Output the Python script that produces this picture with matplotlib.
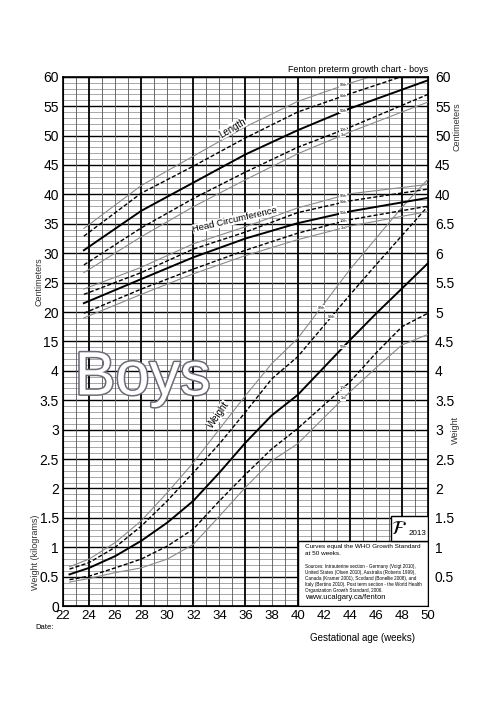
import matplotlib
matplotlib.use("Agg")
import matplotlib.pyplot as plt
import matplotlib.patheffects as pe
import numpy as np

plt.rcParams['font.family'] = ['Liberation Sans', 'DejaVu Sans']

# ---------------- data ----------------
pct_names = ["97th", "90th", "50th", "10th", "3rd"]

len_weeks = [23.6, 28, 32, 36, 40, 44, 50]
length_cm = {
    "97th": [34.2, 41.5, 46.5, 51.5, 55.8, 58.9, 63.0],
    "90th": [32.9, 40.2, 44.8, 49.6, 54.0, 57.1, 61.5],
    "50th": [30.5, 37.2, 42.0, 46.8, 50.9, 54.6, 59.4],
    "10th": [28.0, 34.3, 39.3, 43.8, 48.0, 51.4, 57.0],
    "3rd":  [26.7, 32.8, 37.9, 42.5, 46.9, 50.6, 55.7],
}

hc_weeks = [23.6, 28, 32, 36, 40, 44, 50]
head_cm = {
    "97th": [23.9, 27.6, 31.6, 34.5, 37.7, 40.1, 41.7],
    "90th": [23.0, 26.7, 30.7, 33.6, 36.9, 38.9, 40.9],
    "50th": [21.5, 25.6, 29.3, 32.5, 35.1, 37.1, 39.4],
    "10th": [19.8, 23.9, 27.3, 30.5, 33.4, 35.7, 38.0],
    "3rd":  [19.0, 23.0, 26.5, 29.6, 32.3, 34.6, 37.1],
}

wt_weeks = [22.5, 24, 26, 28, 30, 32, 34, 36, 38, 40, 44, 46, 48, 50]
weight_kg = {
    "97th": [0.67, 0.80, 1.08, 1.45, 1.93, 2.44, 3.01, 3.58, 4.12, 4.55, 5.72, 6.25, 6.78, 7.26],
    "90th": [0.63, 0.74, 1.00, 1.36, 1.79, 2.27, 2.76, 3.30, 3.86, 4.24, 5.29, 5.80, 6.30, 6.80],
    "50th": [0.54, 0.65, 0.85, 1.11, 1.42, 1.79, 2.27, 2.78, 3.24, 3.59, 4.52, 4.97, 5.40, 5.83],
    "10th": [0.45, 0.51, 0.65, 0.80, 1.02, 1.31, 1.79, 2.24, 2.67, 3.02, 3.81, 4.30, 4.75, 4.98],
    "3rd":  [0.41, 0.47, 0.57, 0.65, 0.80, 1.05, 1.53, 2.02, 2.47, 2.76, 3.64, 4.05, 4.44, 4.62],
}

x_ticks = list(range(22, 51, 2))
left_labels = ["0", "0.5", "1", "1.5", "2", "2.5", "3", "3.5", "4",
               "15", "20", "25", "30", "35", "40", "45", "50", "55", "60"]
right_labels = ["", "0.5", "1", "1.5", "2", "2.5", "3", "3.5", "4", "4.5", "5",
                "5.5", "6", "6.5", "40", "45", "50", "55", "60"]

# chart scale: one grid step = 5 cm = 0.5 kg
def cm2u(v):
    return np.asarray(v) / 5.0 + 6.0

def kg2u(v):
    return np.asarray(v) * 2.0

styles = {
    "97th": dict(color="#8a8a8a", lw=0.8, ls="-"),
    "90th": dict(color="black", lw=1.0, ls=(0, (3, 1.5))),
    "50th": dict(color="black", lw=1.4, ls="-"),
    "10th": dict(color="black", lw=1.0, ls=(0, (3, 1.5))),
    "3rd":  dict(color="#8a8a8a", lw=0.8, ls="-"),
}

fig = plt.figure(figsize=(5.0, 7.04), dpi=100)
ax = fig.add_axes([0.126, 0.139, 0.730, 0.752])
ax.set_xlim(22, 50)
ax.set_ylim(0, 18)

# grid
for y in np.arange(0, 18.01, 0.2):
    if abs(y - round(y)) < 1e-6:
        ax.axhline(y, color="black", lw=1.0, zorder=1)
    else:
        ax.axhline(y, color="#9a9a9a", lw=0.6, zorder=1)
for x in range(22, 51):
    if (x - 24) % 4 == 0:
        ax.axvline(x, color="black", lw=1.3, zorder=1)
    else:
        ax.axvline(x, color="#555555", lw=0.6, zorder=1)

# curves
for p in pct_names:
    ax.plot(len_weeks, cm2u(length_cm[p]), zorder=3, **styles[p])
    ax.plot(hc_weeks, cm2u(head_cm[p]), zorder=3, **styles[p])
    ax.plot(wt_weeks, kg2u(weight_kg[p]), zorder=3, **styles[p])

# percentile tags
lab_x = 43.5
tag_box = dict(facecolor="white", edgecolor="none", pad=0.2)
for p in pct_names:
    for wk, vals, conv in ((len_weeks, length_cm[p], cm2u), (hc_weeks, head_cm[p], cm2u)):
        yv = np.interp(lab_x, wk, conv(vals))
        ax.text(lab_x, yv, p, fontsize=2.8, ha="center", va="center", zorder=5, bbox=tag_box)
wlab = {"97th": 41.8, "90th": 42.6, "50th": 43.5, "10th": 43.5, "3rd": 43.5}
for p in pct_names:
    yv = np.interp(wlab[p], wt_weeks, kg2u(weight_kg[p]))
    ax.text(wlab[p], yv, p, fontsize=2.8, ha="center", va="center", zorder=5, bbox=tag_box)

# curve names
name_box = dict(facecolor="white", edgecolor="none", pad=0.2)
ax.text(35.0, cm2u(51.3), "Length", fontsize=7, rotation=30, ha="center", va="center",
        zorder=5, bbox=name_box)
ax.text(35.2, cm2u(35.7), "Head Circumference", fontsize=6.8, rotation=13, ha="center",
        va="center", zorder=5, bbox=name_box)
ax.text(33.9, kg2u(3.25), "Weight", fontsize=7, rotation=55, ha="center", va="center",
        zorder=5, bbox=name_box)

# Boys
ax.text(22.9, kg2u(3.6), "Boys", fontsize=44, color="white", ha="left", va="baseline",
        zorder=6, path_effects=[pe.withStroke(linewidth=2.2, foreground="#6a6a78")])

# info boxes
ax.add_patch(plt.Rectangle((40, 0), 10, kg2u(1.1), facecolor="white", edgecolor="black",
                           lw=1.0, zorder=7))
ax.add_patch(plt.Rectangle((47.2, kg2u(1.1)), 2.8, kg2u(0.43), facecolor="white",
                           edgecolor="black", lw=1.0, zorder=7))
ax.text(48.4, kg2u(1.31), r"$\mathcal{F}$", fontsize=14, ha="right", va="center", zorder=8)
ax.text(49.9, kg2u(1.24), "2013", fontsize=5.8, ha="right", va="center", zorder=9)
ax.text(40.6, kg2u(1.05), "Curves equal the WHO Growth Standard\nat 50 weeks.",
        fontsize=4.6, ha="left", va="top", zorder=8, linespacing=1.3)
ax.text(40.6, kg2u(0.72),
        "Sources: Intrauterine section - Germany (Voigt 2010),\n"
        "United States (Olsen 2010), Australia (Roberts 1999),\n"
        "Canada (Kramer 2001), Scotland (Bonellie 2008), and\n"
        "Italy (Bertino 2010). Post term section - the World Health\n"
        "Organization Growth Standard, 2006.",
        fontsize=3.3, ha="left", va="top", zorder=8, linespacing=1.25)
ax.text(40.6, kg2u(0.14), "www.ucalgary.ca/fenton", fontsize=5.5, ha="left", va="center",
        zorder=8)

# axes
ax.set_xticks(x_ticks)
ax.set_xticklabels([str(v) for v in x_ticks], fontsize=9.5)
ax.set_yticks(range(19))
ax.set_yticklabels(left_labels, fontsize=10)
ax.tick_params(length=0, pad=3)
ax2 = ax.twinx()
ax2.set_ylim(0, 18)
ax2.set_yticks(range(19))
ax2.set_yticklabels(right_labels, fontsize=10)
ax2.tick_params(length=0, pad=5)
for s in ax.spines.values():
    s.set_linewidth(1.2)

fig.text(0.078, 0.60, "Centimeters", rotation=90, fontsize=6.5, ha="center", va="center",
         color="#333333")
fig.text(0.072, 0.215, "Weight (kilograms)", rotation=90, fontsize=6.5, ha="center",
         va="center", color="#333333")
fig.text(0.915, 0.82, "Centimeters", rotation=90, fontsize=6.5, ha="center", va="center",
         color="#333333")
fig.text(0.91, 0.39, "Weight", rotation=90, fontsize=6.5, ha="center", va="center",
         color="#333333")
fig.text(0.856, 0.895, "Fenton preterm growth chart - boys", fontsize=6.4, ha="right",
         va="bottom")
fig.text(0.07, 0.108, "Date:", fontsize=5.5, ha="left", va="center")
fig.text(0.726, 0.094, "Gestational age (weeks)", fontsize=7, ha="center", va="center")

fig.savefig("out.png", dpi=100, facecolor="white")
